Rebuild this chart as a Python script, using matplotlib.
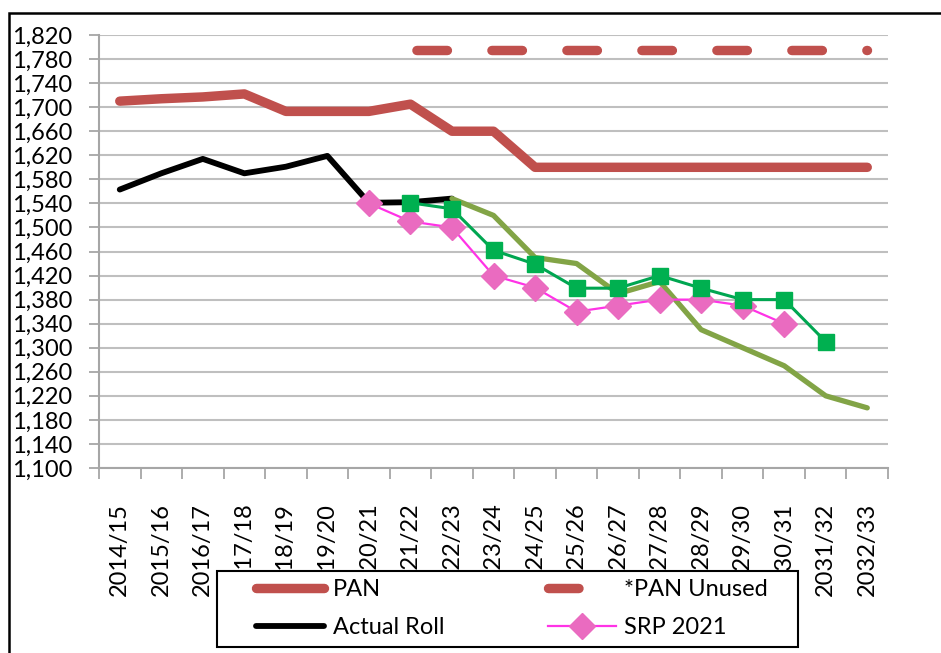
import matplotlib.pyplot as plt
from matplotlib.lines import Line2D
from matplotlib.patches import Rectangle

# Categorias (anos escolares)
years = ['2014/15', '2015/16', '2016/17', '2017/18', '2018/19', '2019/20', '2020/21',
         '2021/22', '2022/23', '2023/24', '2024/25', '2025/26', '2026/27', '2027/28',
         '2028/29', '2029/30', '2030/31', '2031/32', '2032/33']

# Series (None = sin dato)
pan = [1710, 1714, 1717, 1722, 1693, 1693, 1693, 1705, 1660, 1660, 1600,
       1600, 1600, 1600, 1600, 1600, 1600, 1600, 1600]
pan_unused = [None] * 7 + [1795] * 12
actual_roll = [1563, 1590, 1614, 1590, 1601, 1619, 1541, 1542, 1548] + [None] * 10
srp_2021 = [None] * 6 + [1540, 1510, 1500, 1420, 1400, 1360, 1370, 1380, 1380,
                         1370, 1340, None, None]
srp_green = [None] * 7 + [1541, 1531, 1462, 1439, 1399, 1399, 1420, 1399,
                          1380, 1380, 1310, None]
forecast_olive = [None] * 8 + [1548, 1520, 1450, 1440, 1390, 1410, 1330,
                               1300, 1270, 1220, 1200]

y_ticks = list(range(1100, 1821, 40))

plt.rcParams['font.family'] = ['Lato', 'DejaVu Sans']
plt.rcParams['font.size'] = 17

x = list(range(len(years)))

PAN_COLOR = '#C0504D'


def clean(values):
    return [float('nan') if v is None else v for v in values]


fig = plt.figure(figsize=(9.41, 6.53), dpi=100)
ax = fig.add_axes([0.1052, 0.2833, 0.8385, 0.6631])

ax.plot(x, clean(pan), color=PAN_COLOR, lw=6.8, solid_capstyle='round',
        solid_joinstyle='round', zorder=3)
ax.plot(x, clean(pan_unused), color=PAN_COLOR, lw=6.8, linestyle=(7.26, (3.23, 4.71)),
        dash_capstyle='round', zorder=3)
ax.plot(x, clean(actual_roll), color='black', lw=4.2, solid_capstyle='round',
        solid_joinstyle='round', zorder=4)
ax.plot(x, clean(forecast_olive), color='#82A446', lw=3.8, solid_capstyle='round',
        solid_joinstyle='round', zorder=5)
ax.plot(x, clean(srp_2021), color='#FF33E6', lw=1.6, marker='D', markersize=13,
        markerfacecolor='#EA6BC0', markeredgecolor='#EA6BC0', zorder=5)
ax.plot(x, clean(srp_green), color='#00A651', lw=2.2, marker='s', markersize=12,
        markerfacecolor='#00B050', markeredgecolor='#00B050', zorder=6)

ax.set_xlim(-0.5, len(years) - 0.5)
ax.set_ylim(1100, 1820)
ax.set_yticks(y_ticks)
ax.set_yticklabels([f'{v:,}' for v in y_ticks])
ax.set_xticks(x)
ax.set_xticklabels(years, rotation=90)
ax.set_xticks([i - 0.5 for i in range(len(years) + 1)], minor=True)

ax.grid(axis='y', color='#BFBFBF', lw=1.5, zorder=0)
ax.tick_params(axis='x', which='major', length=0, pad=25)
ax.tick_params(axis='x', which='minor', length=8, width=1.3, color='#A6A6A6')
ax.tick_params(axis='y', length=7, width=1.3, color='#A6A6A6', pad=12)
for side in ['top', 'right']:
    ax.spines[side].set_visible(False)
for side in ['left', 'bottom']:
    ax.spines[side].set_color('#A6A6A6')
    ax.spines[side].set_linewidth(1.5)

# Marco exterior del grafico
fig.patches.append(Rectangle((9 / 941, -0.1), 1.1, 1.1 - 13 / 653, transform=fig.transFigure,
                             fill=False, edgecolor='black', lw=1.8, zorder=0))

# Caja de la leyenda (tapa parte de las etiquetas del eje x)
fig.patches.append(Rectangle((217 / 941, 6 / 653), 581 / 941, 76 / 653,
                             transform=fig.transFigure, facecolor='white',
                             edgecolor='black', lw=1.5, zorder=5))

# Orden por columnas: PAN, Actual Roll | *PAN Unused, SRP 2021
handles = [
    Line2D([], [], color=PAN_COLOR, lw=6.8, solid_capstyle='round'),
    Line2D([], [], color='black', lw=4.2, solid_capstyle='round'),
    Line2D([], [], color=PAN_COLOR, lw=6.8, linestyle=(0, (3.23, 4.71)),
           dash_capstyle='round'),
    Line2D([], [], color='#FF33E6', lw=1.6, marker='D', markersize=13,
           markerfacecolor='#EA6BC0', markeredgecolor='#EA6BC0'),
]
labels = ['PAN', 'Actual Roll', '*PAN Unused', 'SRP 2021']
leg = fig.legend(handles, labels, ncol=2, loc='center left',
                 bbox_to_anchor=(256 / 941, 1 - 608.5 / 653, 512 / 941, 0),
                 mode='expand', frameon=False, handlelength=2.9, handletextpad=0.35,
                 borderaxespad=0, labelspacing=0.72, borderpad=0)
leg.set_zorder(10)

plt.savefig('out.png', dpi=100)
